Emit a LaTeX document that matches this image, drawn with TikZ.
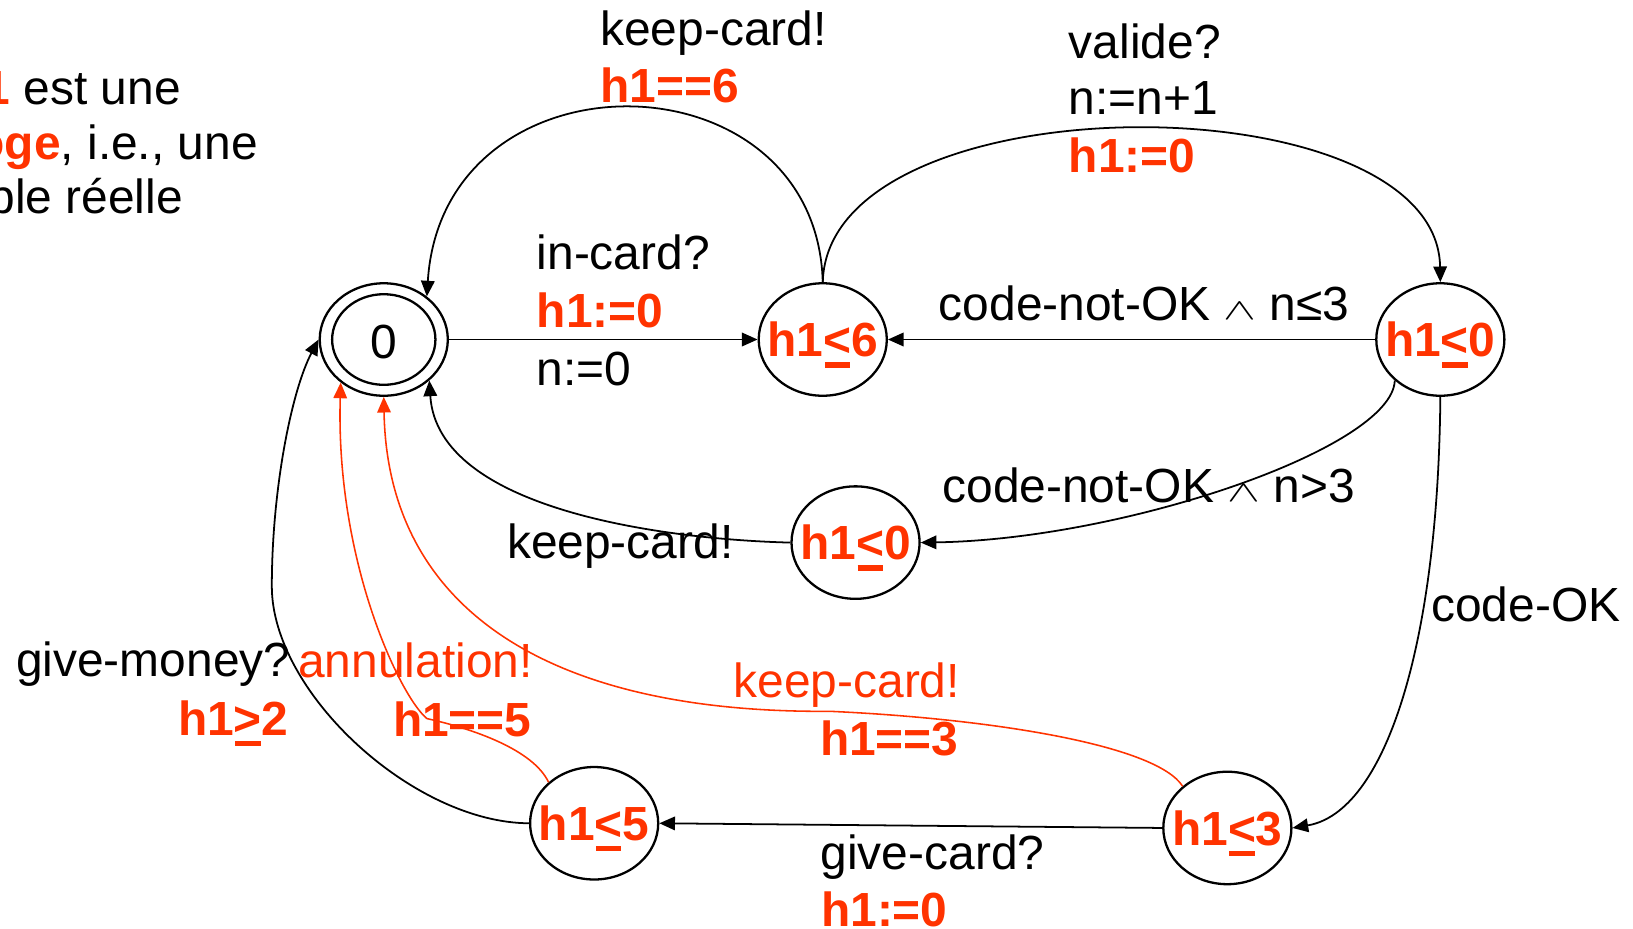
\documentclass[tikz,border=0pt]{standalone}
\usepackage{fontspec}
\usepackage{graphicx}
\setmainfont{Liberation Sans}
\usetikzlibrary{arrows.meta,shapes.geometric}
\definecolor{clockred}{RGB}{255,51,0}
% underlined relation sign used for clock invariants (<, >)
\newcommand\ubar[1]{{\setbox0\hbox{#1}\rlap{\kern0.03em\rule[-0.23em]{\dimexpr\wd0-0.06em\relax}{0.11em}}\box0}}
% small flat logical "and"
\newcommand\andsym{\raisebox{0.02em}{\scalebox{0.95}[0.58]{$\wedge$}}}

\begin{document}
\begin{tikzpicture}[x=0.5pt,y=-0.5pt,
  every node/.style={font=\fontsize{23pt}{28pt}\selectfont},
  state/.style={draw=black,line width=1.1pt,ellipse,minimum width=61.5pt,minimum height=54pt,inner sep=0pt},
  inner/.style={draw=black,line width=1.1pt,ellipse,minimum width=49.6pt,minimum height=43.5pt,inner sep=0pt},
  stlbl/.style={inner sep=0pt,yshift=-2.5pt,text=clockred,font=\fontsize{23pt}{28pt}\selectfont\bfseries},
  edge/.style={line width=0.85pt,-{Triangle[length=7.5pt,width=6.5pt]}},
  redge/.style={edge,draw=clockred,line width=0.75pt},
  lbl/.style={anchor=base west,inner sep=0pt},
  rlbl/.style={lbl,text=clockred},
  blbl/.style={lbl,text=clockred,font=\fontsize{23pt}{28pt}\selectfont\bfseries}]

\useasboundingbox (0,0) rectangle (1568,892);
\clip (0,0) rectangle (1568,892);

% explanatory text at the top left
\node[anchor=base east,inner sep=0pt] (t1) at (174,100) {{\bfseries\color{clockred}h1} est une};
\node[anchor=base east,inner sep=0pt] (t2) at (248,153.6) {{\bfseries\color{clockred}horloge}, i.e., une};
\node[anchor=base east,inner sep=0pt] (t3) at (176,205) {variable réelle};

% states
\node[state] (n0) at (368.5,326) {};
\node[inner] (n0i) at (368.5,326) {};
\node[inner sep=0pt,yshift=-1pt] (s0) at (n0) {0};
\node[state] (n1) at (790,326) {};
\node[stlbl] (s1) at (n1) {h1\ubar{<}6};
\node[state] (n2) at (1383,326) {};
\node[stlbl] (s2) at (n2) {h1\ubar{<}0};
\node[state] (n3) at (821.5,521) {};
\node[stlbl] (s3) at (n3) {h1\ubar{<}0};
\node[state] (n4) at (1178.5,795) {};
\node[stlbl] (s4) at (n4) {h1\ubar{<}3};
\node[state] (n5) at (570.5,790.5) {};
\node[stlbl] (s5) at (n5) {h1\ubar{<}5};

% transitions
\draw[edge] (n0.east) -- (n1.west);
\draw[edge] (n1.north) .. controls (784,48) and (425,44) .. (n0.45);
\draw[edge] (n1.north) .. controls (795,75) and (1380,75) .. (n2.north);
\draw[edge] (n2.west) -- (n1.east);
\draw[edge] (n2.222) .. controls (1337,430) and (1080,518) .. (n3.east);
\draw[edge] (n3.west) .. controls (640,518) and (420,490) .. (n0.-42);
\draw[edge] (n2.south) .. controls (1381,620) and (1330,780) .. (n4.east);
\draw[edge] (n4.west) -- (n5.east);
\draw[edge] (n5.west) .. controls (397,790) and (261,665) .. (261,563)
                      .. controls (261,470) and (280,375) .. (n0.west);
\draw[redge] (n5.138) .. controls (512,720) and (455,700) .. (410,690)
                      .. controls (385,670) and (322,540) .. (n0.225);
\draw[redge] (n4.137) .. controls (1110,715) and (950,690) .. (797,683)
                      .. controls (520,685) and (372,580) .. (n0.south);

% transition labels
\node[lbl]  (a1) at (576,44) {keep-card!};
\node[blbl] (a2) at (576,98) {h1==6};
\node[lbl]  (b1) at (1026,56) {valide?};
\node[lbl]  (b2) at (1026,110.4) {n:=n+1};
\node[blbl] (b3) at (1026,166) {h1:=0};
\node[lbl]  (c1) at (515,258.6) {in-card?};
\node[blbl] (c2) at (515,314) {h1:=0};
\node[lbl]  (c3) at (515,370) {n:=0};
\node[lbl]  (d1) at (901,308) {code-not-OK \andsym{} n≤3};
\node[lbl]  (e1) at (904.6,482.6) {code-not-OK \andsym{} n>3};
\node[lbl]  (f1) at (486.5,536) {keep-card!};
\node[lbl]  (g1) at (1374,597) {code-OK};
\node[lbl]  (h1) at (15,650) {give-money?};
\node[blbl] (h2) at (170.6,706) {h1\ubar{>}2};
\node[rlbl] (i1) at (286,651) {annulation!};
\node[blbl] (i2) at (377,707) {h1==5};
\node[rlbl] (j1) at (704,669.5) {keep-card!};
\node[blbl] (j2) at (787,725) {h1==3};
\node[lbl]  (k1) at (787.6,834.7) {give-card?};
\node[blbl] (k2) at (788,890) {h1:=0};
\end{tikzpicture}
\end{document}
